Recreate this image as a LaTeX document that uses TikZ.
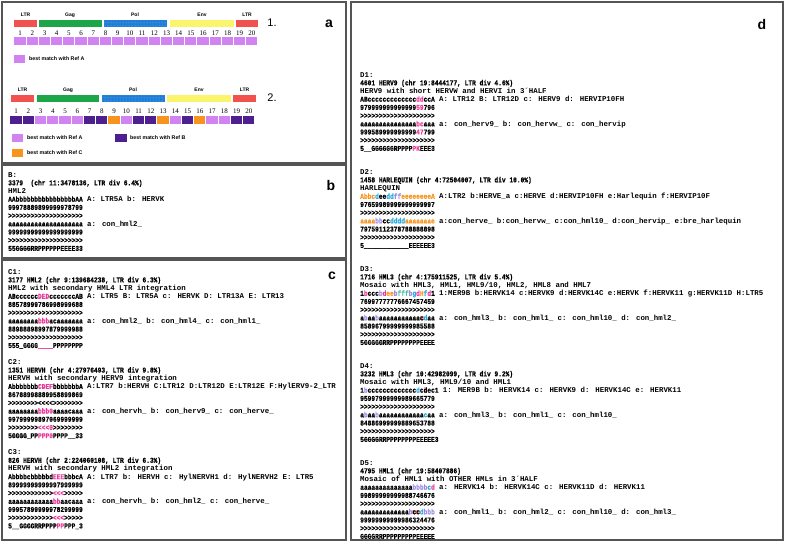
\documentclass[tikz,border=0pt]{standalone}
\usepackage{fontspec}
\setmainfont{Liberation Serif}
\setsansfont{Liberation Sans}
\newfontfamily\monofam[Ligatures=TeXOff]{Liberation Mono}
\newfontfamily\monofamn[Ligatures=TeXOff,FakeStretch=0.84,FakeBold=0.3]{Liberation Mono}
\usetikzlibrary{patterns}
\definecolor{frame}{HTML}{555555}
\definecolor{ltrred}{HTML}{F2524E}
\definecolor{gaggreen}{HTML}{1DA54A}
\definecolor{polblue}{HTML}{1F7ED6}
\definecolor{envyellow}{HTML}{FBF56E}
\definecolor{refA}{HTML}{D283F2}
\definecolor{refB}{HTML}{4E1F8E}
\definecolor{refC}{HTML}{F7941D}
\definecolor{hlc}{HTML}{E8399A}
\definecolor{cor}{HTML}{F7931E}
\definecolor{cbl}{HTML}{29A8E0}
\definecolor{cpu}{HTML}{9C8BE6}
\definecolor{cgr}{HTML}{4FC29A}
\definecolor{hlbg}{HTML}{F4B4B4}
\newcommand\narr{\monofamn\bfseries}
\newcommand\hlt[1]{\textcolor{hlc}{#1}}
\newcommand\cO[1]{\textcolor{cor}{#1}}
\newcommand\cB[1]{\textcolor{cbl}{#1}}
\newcommand\cP[1]{\textcolor{cpu}{#1}}
\newcommand\cG[1]{\textcolor{cgr}{#1}}
\newcommand\bgx[1]{{\setlength\fboxsep{0pt}\colorbox{hlbg}{#1}}}
\tikzset{
  txt/.style={anchor=north west, inner sep=0pt, align=left,
    font=\monofam\bfseries\fontsize{7.4}{8.2}\selectfont},
  plab/.style={inner sep=0pt, font=\sffamily\bfseries\fontsize{14}{14}\selectfont},
  seglab/.style={inner sep=0pt, font=\sffamily\bfseries\fontsize{5}{5}\selectfont},
  numlab/.style={inner sep=0pt, font=\fontsize{7}{7}\selectfont},
  leglab/.style={inner sep=0pt, anchor=west, font=\sffamily\bfseries\fontsize{5.3}{5.3}\selectfont},
  biglab/.style={inner sep=0pt, font=\sffamily\fontsize{11}{11}\selectfont},
  pane/.style={draw=frame, line width=1.3pt}
}
\begin{document}
\begin{tikzpicture}[x=1pt,y=-1pt]
\useasboundingbox (0,0) rectangle (785,542);
% panel frames
\draw[pane] (2,2) rectangle (346,163);
\draw[pane] (2,165) rectangle (346,258);
\draw[pane] (2,260) rectangle (346,540);
\draw[pane] (351,2) rectangle (783,540);
% panel letters
\node[plab] (la) at (329,24) {a};
\node[plab] (lb) at (331,185) {b};
\node[plab] (lc) at (332,276) {c};
\node[plab] (ld) at (762,24) {d};

% ---------- panel a, genome 1
\node[seglab] (s1a) at (25.5,15) {LTR};
\node[seglab] (s1b) at (70,15) {Gag};
\node[seglab] (s1c) at (135,15) {Pol};
\node[seglab] (s1d) at (202,15) {Env};
\node[seglab] (s1e) at (247,15) {LTR};
\fill[ltrred] (14,20) rectangle (37,27);
\fill[gaggreen] (39,20) rectangle (102,27);
\fill[polblue] (104,20) rectangle (167,27);
\fill[pattern=dots, pattern color=polblue!55!white] (104,20) rectangle (167,27);
\fill[envyellow] (170,20) rectangle (234,27);
\fill[ltrred] (236,20) rectangle (258,27);
\foreach \i in {1,...,20}{
  \node[numlab] (na\i) at ({14+12.2*(\i-0.5)},33) {\i};
  \fill[refA] ({14+12.2*(\i-1)+0.4},37) rectangle ({14+12.2*\i-0.6},44.5);
}
\node[biglab] (one) at (272,23) {1.};
\fill[refA] (14,55) rectangle (25,63);
\node[leglab] (lga1) at (29,59) {best match with Ref A};

% ---------- panel a, genome 2
\node[seglab] (s2a) at (22.5,90) {LTR};
\node[seglab] (s2b) at (68,90) {Gag};
\node[seglab] (s2c) at (133,90) {Pol};
\node[seglab] (s2d) at (199,90) {Env};
\node[seglab] (s2e) at (244.5,90) {LTR};
\fill[ltrred] (11,95) rectangle (34,102);
\fill[gaggreen] (37,95) rectangle (99,102);
\fill[polblue] (102,95) rectangle (165,102);
\fill[pattern=dots, pattern color=polblue!55!white] (102,95) rectangle (165,102);
\fill[envyellow] (167,95) rectangle (231,102);
\fill[ltrred] (233,95) rectangle (256,102);
\foreach \c [count=\i] in {refB,refB,refA,refA,refA,refA,refB,refB,refC,refA,refB,refB,refC,refA,refB,refC,refA,refA,refB,refB}{
  \node[numlab] (nb\i) at ({10+12.25*(\i-0.5)},111) {\i};
  \fill[\c] ({10+12.25*(\i-1)+0.4},116) rectangle ({10+12.25*\i-0.6},124);
}
\node[biglab] (two) at (272,98) {2.};
\fill[refA] (12,134) rectangle (23,142);
\node[leglab] (lga2) at (27,138) {best match with Ref A};
\fill[refB] (115,134) rectangle (127,142);
\node[leglab] (lgb2) at (130,138) {best match with Ref B};
\fill[refC] (12,149) rectangle (23,157);
\node[leglab] (lgc2) at (27,153) {best match with Ref C};

% ---------- panel b
\node[txt] (tb) at (8,172) {B:\\
{\narr 3379\ \ (chr 11:3478136, LTR div 6.4\%)}\\
HML2\\
{\narr AAbbbbbbbbbbbbbbbbAA} A: LTR5A b: HERVK\\
{\narr 99978889899999978799}\\
{\narr >>>>>>>>>>>>>>>>>>>>}\\
{\narr aaaaaaaaaaaaaaaaaaaa} a: con\_hml2\_\\
{\narr 99999999999999999999}\\
{\narr >>>>>>>>>>>>>>>>>>>>}\\
{\narr 55GGGGRRPPPPPPEEEE33}};

% ---------- panel c
\node[txt] (tc1) at (8,269) {C1:\\
{\narr 3177 HML2 (chr 9:139684238, LTR div 6.3\%)}\\
HML2 with secondary HML4 LTR integration\\
{\narr ABcccccc\hlt{DED}cccccccAB} A: LTR5 B: LTR5A c: HERVK D: LTR13A E: LTR13\\
{\narr 88578999786998999688}\\
{\narr >>>>>>>>>>>>>>>>>>>>}\\
{\narr aaaaaaaa\hlt{bbb}acaaaaaaa} a: con\_hml2\_ b: con\_hml4\_ c: con\_hml1\_\\
{\narr 88988898997879999988}\\
{\narr >>>>>>>>>>>>>>>>>>>>}\\
{\narr 555\_GGGG\hlt{\_\_\_\_}PPPPPPPP}};

\node[txt] (tc2) at (8,359.2) {C2:\\
{\narr 1351 HERVH (chr 4:27976493, LTR div 9.8\%)}\\
HERVH with secondary HERV9 integration\\
{\narr Abbbbbbb\hlt{CDEF}bbbbbbbA} A:LTR7 b:HERVH C:LTR12 D:LTR12D E:LTR12E F:HylERV9-2\_LTR\\
{\narr 86788998889958899869}\\
{\narr >>>>>>>><<<<>>>>>>>>}\\
{\narr aaaaaaaa\hlt{bbb0}aaaacaaa} a: con\_hervh\_ b: con\_herv9\_ c: con\_herve\_\\
{\narr 99799999897069999999}\\
{\narr >>>>>>>>\hlt{<<<0}>>>>>>>>}\\
{\narr 5GGGG\_PP\hlt{PPP0}PPPP\_\_33}};

\node[txt] (tc3) at (8,449.4) {C3:\\
{\narr 826 HERVH (chr 2:224060108, LTR div 6.3\%)}\\
HERVH with secondary HML2 integration\\
{\narr Abbbbcbbbbbd\hlt{EEE}bbbcA} A: LTR7 b: HERVH c: HylNERVH1 d: HylNERVH2 E: LTR5\\
{\narr 89999999999997999999}\\
{\narr >>>>>>>>>>>>\hlt{<<<}>>>>>}\\
{\narr aaaaaaaaaaaa\hlt{bb}aacaaa} a: con\_hervh\_ b: con\_hml2\_ c: con\_herve\_\\
{\narr 99957899999978299999}\\
{\narr >>>>>>>>>>>>\hlt{<<<}>>>>>}\\
{\narr 5\_\_GGGGRRPPPP\hlt{PP}PPP\_3}};

% ---------- panel d
\node[txt] (td1) at (360,72) {D1:\\
{\narr 4601 HERV9 (chr 19:8444177, LTR div 4.6\%)}\\
HERV9 with short HERVW and HERVI in 3´HALF\\
{\narr ABccccccccccccc\hlt{dd}ccA} A: LTR12 B: LTR12D c: HERV9 d: HERVIP10FH\\
{\narr 979999999999999\hlt{59}796}\\
{\narr >>>>>>>>>>>>>>>>>>>>}\\
{\narr aaaaaaaaaaaaaaa\hlt{bc}aaa} a: con\_herv9\_ b: con\_hervw\_ c: con\_hervip\\
{\narr 999589999999999\hlt{47}799}\\
{\narr >>>>>>>>>>>>>>>>>>>>}\\
{\narr 5\_\_GGGGGGRPPPP\hlt{PK}EEE3}};

\node[txt] (td2) at (360,169) {D2:\\
{\narr 1458 HARLEQUIN (chr 4:72504007, LTR div 10.0\%)}\\
HARLEQUIN\\
{\narr \cO{Abbc}\cB{d}ee\cB{dd}\cP{ff}\cO{eeeeeeeeA}} A:LTR2 b:HERVE\_a c:HERVE d:HERVIP10FH e:Harlequin f:HERVIP10F\\
{\narr 97659989999999999997}\\
{\narr >>>>>>>>>>>>>>>>>>>>}\\
{\narr \cO{aaaa}\cP{bb}cc\cB{dddd}\cO{aaaaaaae}} a:con\_herve\_ b:con\_hervw\_ c:con\_hml10\_ d:con\_hervip\_ e:bre\_harlequin\\
{\narr 79759112378788888898}\\
{\narr >>>>>>>>>>>>>>>>>>>>}\\
{\narr 5\_\_\_\_\_\_\_\_\_\_\_\_EEEEEE3}};

\node[txt] (td3) at (360,266) {D3:\\
{\narr 1716 HML3 (chr 4:175911525, LTR div 5.4\%)}\\
Mosaic with HML3, HML1, HML9/10, HML2, HML8 and HML7\\
{\narr 1\hlt{b}ccc\cP{b}\hlt{d}\cO{ee}\cP{b}\cG{fff}\cP{b}\cB{g}\hlt{d}\cO{H}\cB{f}\hlt{d}1} 1:MER9B b:HERVK14 c:HERVK9 d:HERVK14C e:HERVK f:HERVK11 g:HERVK11D H:LTR5\\
{\narr 76997777776667457459}\\
{\narr >>>>>>>>>>>>>>>>>>>>}\\
{\narr a\cP{b}aa\cP{b}aaaaaaaaaaa\bgx{c}\cB{d}aa} a: con\_hml3\_ b: con\_hml1\_ c: con\_hml10\_ d: con\_hml2\_\\
{\narr 85896799999999985588}\\
{\narr >>>>>>>>>>>>>>>>>>>>}\\
{\narr 5GGGGGRRPPPPPPPPEEEE}};

\node[txt] (td4) at (360,363) {D4:\\
{\narr 3232 HML3 (chr 10:42982099, LTR div 9.2\%)}\\
Mosaic with HML3, HML9/10 and HML1\\
{\narr 1\cP{b}ccccccccccccc\cB{d}c\bgx{d}ec1} 1: MER9B b: HERVK14 c: HERVK9 d: HERVK14C e: HERVK11\\
{\narr 95997999999989665779}\\
{\narr >>>>>>>>>>>>>>>>>>>>}\\
{\narr a\cP{b}aa\cP{b}aaaaaaaaaaaa\cB{c}aa} a: con\_hml3\_ b: con\_hml1\_ c: con\_hml10\_\\
{\narr 84886999999889653788}\\
{\narr >>>>>>>>>>>>>>>>>>>>}\\
{\narr 5GGGGRRPPPPPPPPEEEEE3}};

\node[txt] (td5) at (360,460) {D5:\\
{\narr 4795 HML1 (chr 19:58407886)}\\
Mosaic of HML1 with OTHER HMLs in 3´HALF\\
{\narr aaaaaaaaaaaaaa\cP{bbbb}\cB{c}\hlt{d}} a: HERVK14 b: HERVK14C c: HERVK11D d: HERVK11\\
{\narr 99899999999988746676}\\
{\narr >>>>>>>>>>>>>>>>>>>>}\\
{\narr aaaaaaaaaaaaa\cP{b}\bgx{cc}\cB{d}\cP{bbb}} a: con\_hml1\_ b: con\_hml2\_ c: con\_hml10\_ d: con\_hml3\_\\
{\narr 99999999999986324476}\\
{\narr >>>>>>>>>>>>>>>>>>>>}\\
{\narr GGGGRRPPPPPPPPPEEEEE}};
\end{tikzpicture}
\end{document}
